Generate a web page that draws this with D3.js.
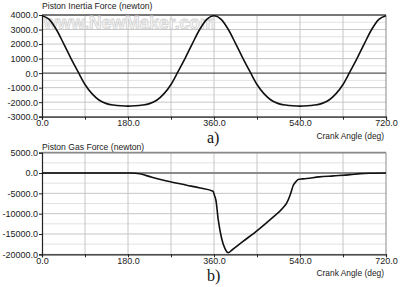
<!DOCTYPE html>
<html><head><meta charset="utf-8">
<script src="https://cdn.jsdelivr.net/npm/d3@7"></script>
<style>body{margin:0;background:#fff}svg{display:block}</style>
</head><body>
<script>
// ---- data ----
const inertiaAngle = [0,15,30,45,60,75,90,105,120,135,150,165,180,195,210,225,240,255,270,285,300,315,330,345,360,
  375,390,405,420,435,450,465,480,495,510,525,540,555,570,585,600,615,630,645,660,675,690,705,720];
const inertiaForce = [3950,3700,3000,2050,1050,120,-780,-1430,-1870,-2100,-2200,-2250,-2270,-2250,-2200,-2100,-1870,-1430,-780,120,1050,2050,3000,3700,3950,
  3700,3000,2050,1050,120,-780,-1430,-1870,-2100,-2200,-2250,-2270,-2250,-2200,-2100,-1870,-1430,-780,120,1050,2050,3000,3700,3950];
const gasAngle = [0,3,10,185,195,205,230,261,303,331,358,361,364,369,376,383,390,397,420,453,480,505,512,520,526,531,536,545,554,580,610,645,666,690,720];
const gasForce = [-250,0,0,0,-50,-200,-1050,-1950,-3000,-3700,-4500,-5500,-6700,-11600,-16100,-18600,-19600,-19000,-16900,-13900,-11200,-8500,-7400,-5200,-3000,-2200,-1600,-1450,-1350,-950,-700,-400,-150,-50,0];
const xTicks = [0,90,180,270,360,450,540,630,720];
const xLabels = [0,180,360,540,720];
const inertiaTicks = [-3000,-2000,-1000,0,1000,2000,3000,4000];
const inertiaMinor = [-2500,-1500,-500,500,1500,2500,3500];
const gasTicks = [-20000,-15000,-10000,-5000,0,5000];
const gasMinor = [-17500,-12500,-7500,-2500,2500];

const W = 400, H = 287;
const svg = d3.select("body").append("svg").attr("width", W).attr("height", H);
svg.append("rect").attr("width", W).attr("height", H).attr("fill", "#fff");

const x = d3.scaleLinear().domain([0, 720]).range([42, 386]);
const FONT = "Liberation Sans, Arial, sans-serif";

function panel(cfg) {
  const y = d3.scaleLinear().domain(cfg.domain).range([cfg.bottom, cfg.top]);
  const g = svg.append("g");
  g.selectAll(".mn").data(cfg.minor).join("line")
    .attr("x1", x(0)).attr("x2", x(720)).attr("y1", d => y(d)).attr("y2", d => y(d))
    .attr("stroke", "#e2e2e2").attr("stroke-width", 1);
  g.selectAll(".mj").data(cfg.ticks.filter(d => d !== 0)).join("line")
    .attr("x1", x(0)).attr("x2", x(720)).attr("y1", d => y(d)).attr("y2", d => y(d))
    .attr("stroke", "#c6c6c6").attr("stroke-width", 1);
  g.selectAll(".vg").data(xTicks.slice(1)).join("line")
    .attr("x1", d => x(d)).attr("x2", d => x(d)).attr("y1", y(cfg.domain[0])).attr("y2", y(cfg.domain[1]))
    .attr("stroke", d => d === 720 ? "#8a8a8a" : "#c6c6c6").attr("stroke-width", 1);
  g.append("line").attr("x1", x(0)).attr("x2", x(720)).attr("y1", y(cfg.domain[1])).attr("y2", y(cfg.domain[1]))
    .attr("stroke", cfg.borderColor).attr("stroke-width", cfg.borderWidth);
  g.append("line").attr("x1", x(0)).attr("x2", x(720)).attr("y1", y(0)).attr("y2", y(0))
    .attr("stroke", cfg.zeroColor).attr("stroke-width", cfg.zeroWidth);

  if (cfg.watermark) {
    g.append("text").attr("x", 44).attr("y", 29)
      .attr("font-family", FONT).attr("font-weight", "bold")
      .attr("font-size", 17.5).attr("fill", "#f6f6f6").attr("stroke", "#cdcdcd").attr("stroke-width", 0.8)
      .attr("opacity", 0.9).text(cfg.watermark);
  }

  const ya = d3.axisLeft(y).tickValues(cfg.ticks).tickSize(3).tickPadding(1)
    .tickFormat(d => d3.format(".1f")(d).replace("−", "-"));
  const yg = g.append("g").attr("transform", `translate(${x(0)},0)`).call(ya);
  const xa = d3.axisBottom(x).tickValues(xTicks).tickSize(3).tickPadding(0)
    .tickFormat(d => xLabels.includes(d) ? d3.format(".1f")(d) : "");
  const xg = g.append("g").attr("transform", `translate(0,${cfg.bottom})`).call(xa);
  [yg, xg].forEach(a => {
    a.select(".domain").attr("stroke", "#222").attr("stroke-width", 1.2);
    a.selectAll(".tick line").attr("stroke", "#222");
    a.selectAll("text").attr("font-family", FONT).attr("font-size", 9).attr("fill", "#222");
  });

  const line = d3.line().x(d => x(d[0])).y(d => y(d[1])).curve(cfg.curve);
  g.append("path").datum(d3.zip(cfg.xs, cfg.ys)).attr("d", line)
    .attr("fill", "none").attr("stroke", "#111").attr("stroke-width", 1.6).attr("stroke-linejoin", "round");

  g.append("text").attr("x", 42).attr("y", cfg.titleY).attr("font-family", FONT).attr("font-size", 8.6)
    .attr("fill", "#222").text(cfg.title);
  g.append("text").attr("x", 384).attr("y", cfg.bottom + 22).attr("text-anchor", "end")
    .attr("font-family", FONT).attr("font-size", 8.4).attr("fill", "#222").text("Crank Angle (deg)");
  g.append("text").attr("x", 207).attr("y", cfg.labelY).attr("font-family", "Liberation Serif, Times New Roman, serif")
    .attr("font-size", 16).attr("fill", "#111").text(cfg.label);
}

panel({domain: [-3000, 4000], top: 15, bottom: 116.7, ticks: inertiaTicks, minor: inertiaMinor,
  xs: inertiaAngle, ys: inertiaForce, curve: d3.curveMonotoneX, title: "Piston Inertia Force (newton)", titleY: 9,
  label: "a)", labelY: 142.5, borderColor: "#555", borderWidth: 1.4, zeroColor: "#555", zeroWidth: 1.2,
  watermark: "www.NewMaker.com"});
panel({domain: [-20000, 5000], top: 152.7, bottom: 254.3, ticks: gasTicks, minor: gasMinor,
  xs: gasAngle, ys: gasForce, curve: d3.curveMonotoneX, title: "Piston Gas Force (newton)", titleY: 149.5,
  label: "b)", labelY: 281, borderColor: "#8a8a8a", borderWidth: 1.8, zeroColor: "#8a8a8a", zeroWidth: 2});
</script>
</body></html>
